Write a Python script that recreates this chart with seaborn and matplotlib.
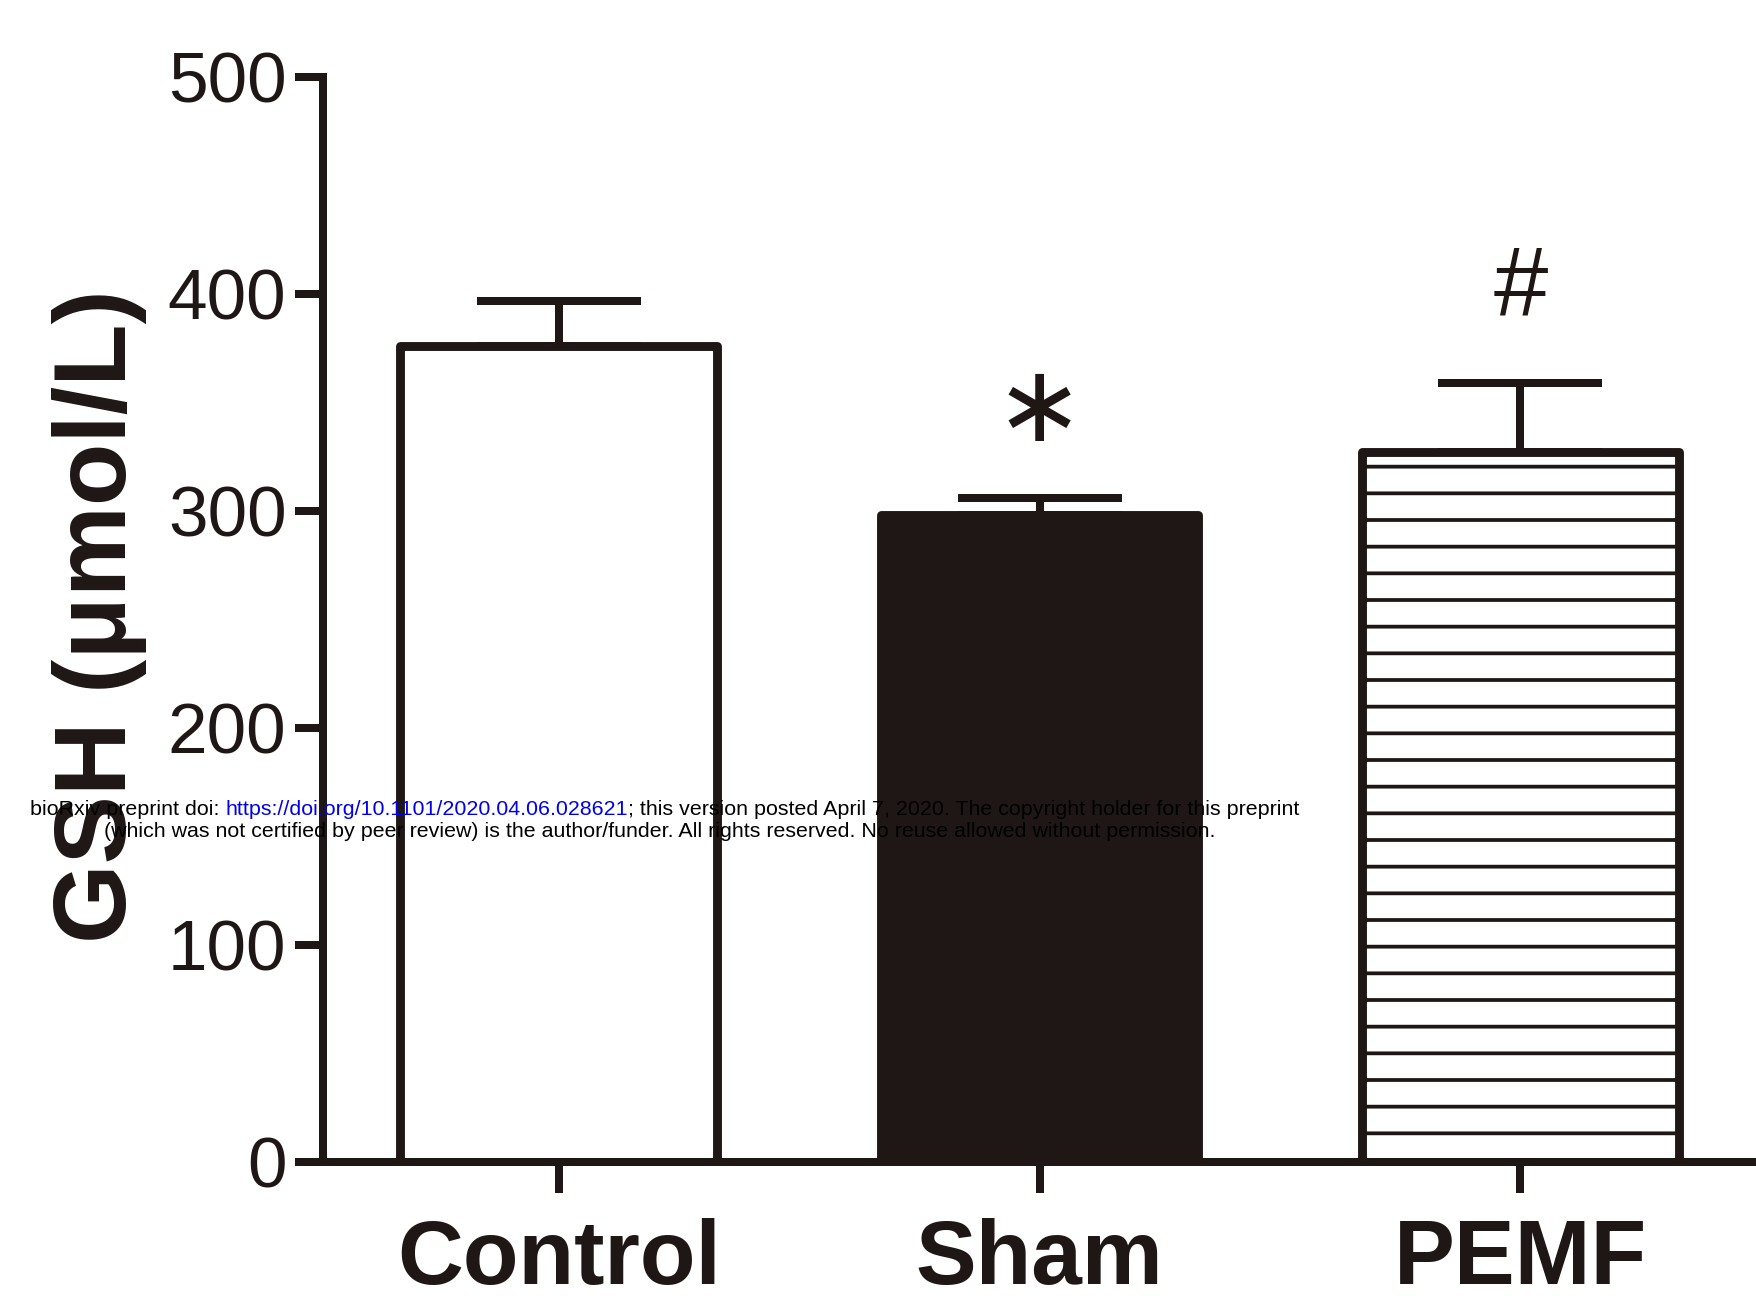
import matplotlib
matplotlib.use("Agg")
import matplotlib.pyplot as plt
import pandas as pd
import seaborn as sns

# values
groups = ["Control", "Sham", "PEMF"]
gsh_mean = [376, 298, 327]
gsh_sem = [21, 8, 32]
bar_faces = ["white", "#1f1716", "white"]
bar_hatches = ["", "", "-"]
marks = ["", "\u2217", "#"]
y_ticks = [0, 100, 200, 300, 400, 500]

wm_head = "bioRxiv preprint doi: "
wm_url = "https://doi.org/10.1101/2020.04.06.028621"
wm_tail = "; this version posted April 7, 2020. The copyright holder for this preprint"
wm_line2 = ("(which was not certified by peer review) is the author/funder. "
            "All rights reserved. No reuse allowed without permission.")

sns.set_style("ticks")
plt.rcParams['font.family'] = ['Liberation Sans', 'DejaVu Sans']
plt.rcParams['hatch.linewidth'] = 1.7
plt.rcParams['hatch.color'] = '#1f1716'

ink = '#1f1716'
DPI = 160
fig = plt.figure(figsize=(1756 / DPI, 1305 / DPI), dpi=DPI)
ax = fig.add_axes([0.184, 0.1096, 0.816, 0.8314])

df = pd.DataFrame({'group': groups, 'gsh': gsh_mean})
sns.barplot(data=df, x='group', y='gsh', ax=ax, width=0.66,
            errorbar=None, color='white', edgecolor=ink, linewidth=4.0)
for patch, fc, h in zip(ax.patches, bar_faces, bar_hatches):
    patch.set_facecolor(fc)
    patch.set_hatch(h)
    patch.set_joinstyle('round')

# upper error bars only
ax.errorbar(range(len(groups)), gsh_mean,
            yerr=[[0] * len(groups), gsh_sem], fmt='none',
            ecolor=ink, elinewidth=3.6, capsize=37, capthick=3.6, zorder=3)

# significance marks
mark_style = {'\u2217': dict(fontsize=48, family=['DejaVu Sans']),
              '#': dict(fontsize=44, family=['Liberation Sans'])}
mark_gap = {'\u2217': 40, '#': 43}
for i, m in enumerate(marks):
    if m:
        ax.text(i, gsh_mean[i] + gsh_sem[i] + mark_gap[m], m,
                ha='center', va='center', color=ink, **mark_style[m])

ax.set_ylim(0, 500)
ax.set_xlim(-0.49, 2.49)
ax.set_yticks(y_ticks)
ax.set_xlabel('')
ax.set_ylabel('GSH (μmol/L)', fontsize=46, fontweight='bold', color=ink)
ax.yaxis.set_label_coords(-0.123, 0.503)
sns.despine(ax=ax)
for side in ['left', 'bottom']:
    ax.spines[side].set_linewidth(3.6)
    ax.spines[side].set_color(ink)
ax.tick_params(axis='y', length=12.5, width=3.6, color=ink,
               labelsize=32, labelcolor=ink, pad=4)
ax.tick_params(axis='x', length=14, width=3.6, color=ink,
               labelsize=41, labelcolor=ink, pad=11)
for lbl in ax.get_xticklabels():
    lbl.set_fontweight('bold')

# preprint watermark
wm_kw = dict(fontsize=9.65, family=['Liberation Sans'], color='black', zorder=10)
t1 = fig.text(30 / 1756, 1 - 815 / 1305, wm_head, ha='left', va='baseline', **wm_kw)
t2 = ax.annotate(wm_url, xy=(1, 0), xycoords=t1, va='bottom', ha='left',
                 annotation_clip=False, **{**wm_kw, 'color': '#0000ee'})
ax.annotate(wm_tail, xy=(1, 0), xycoords=t2, va='bottom', ha='left',
            annotation_clip=False, **wm_kw)
fig.text(660 / 1756, 1 - 837 / 1305, wm_line2, ha='center', va='baseline', **wm_kw)

fig.savefig('out.png', dpi=DPI)
